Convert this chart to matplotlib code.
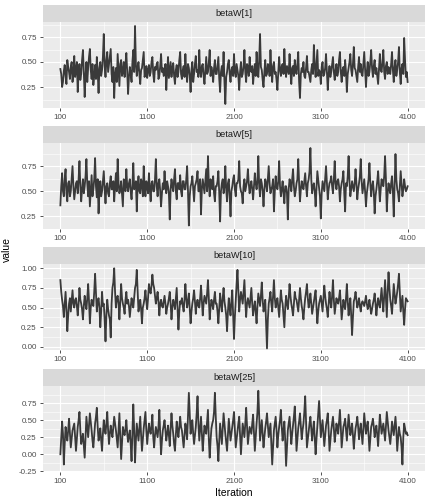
import numpy as np
import matplotlib
matplotlib.use("Agg")
import matplotlib.pyplot as plt
from matplotlib.ticker import FixedLocator

plt.rcParams['font.family'] = ['Liberation Sans', 'DejaVu Sans']

# draws kept every 10 iterations: 100..4100
iteration = np.arange(100, 4101, 10)

# values at 100, 120, ..., 4100
beta_w1_even = [
    0.43, 0.25, 0.41, 0.36, 0.52, 0.40, 0.45, 0.30, 0.56, 0.42,
    0.20, 0.48, 0.38, 0.62, 0.15, 0.50, 0.44, 0.63, 0.33, 0.27,
    0.47, 0.55, 0.19, 0.50, 0.42, 0.78, 0.35, 0.60, 0.48, 0.63,
    0.30, 0.14, 0.44, 0.58, 0.26, 0.52, 0.40, 0.35, 0.59, 0.18,
    0.45, 0.30, 0.62, 0.86, 0.36, 0.50, 0.28, 0.44, 0.60, 0.40,
    0.34, 0.47, 0.40, 0.55, 0.30, 0.42, 0.50, 0.36, 0.58, 0.44,
    0.38, 0.22, 0.55, 0.42, 0.35, 0.49, 0.28, 0.47, 0.40, 0.60,
    0.33, 0.46, 0.58, 0.30, 0.44, 0.20, 0.50, 0.38, 0.56, 0.42,
    0.62, 0.35, 0.48, 0.28, 0.55, 0.40, 0.62, 0.45, 0.30, 0.52,
    0.38, 0.55, 0.20, 0.46, 0.60, 0.08, 0.40, 0.52, 0.30, 0.45,
    0.58, 0.35, 0.42, 0.22, 0.50, 0.38, 0.62, 0.30, 0.45, 0.55,
    0.40, 0.28, 0.48, 0.60, 0.35, 0.78, 0.42, 0.25, 0.52, 0.38,
    0.45, 0.62, 0.30, 0.50, 0.40, 0.22, 0.55, 0.36, 0.48, 0.63,
    0.35, 0.42, 0.58, 0.28, 0.46, 0.52, 0.38, 0.60, 0.14, 0.44,
    0.50, 0.34, 0.56, 0.40, 0.30, 0.48, 0.67, 0.35, 0.62, 0.42,
    0.28, 0.50, 0.38, 0.58, 0.22, 0.46, 0.40, 0.55, 0.32, 0.48,
    0.40, 0.60, 0.30, 0.45, 0.52, 0.20, 0.44, 0.58, 0.36, 0.65,
    0.42, 0.30, 0.55, 0.48, 0.36, 0.60, 0.25, 0.50, 0.40, 0.62,
    0.35, 0.52, 0.44, 0.28, 0.58, 0.40, 0.62, 0.33, 0.50, 0.45,
    0.38, 0.60, 0.30, 0.52, 0.42, 0.65, 0.28, 0.48, 0.74, 0.35,
    0.30,
]
# values at 110, 130, ..., 4090
beta_w1_odd = [
    0.38, 0.30, 0.47, 0.28, 0.45, 0.33, 0.50, 0.38, 0.35, 0.50,
    0.40, 0.32, 0.52, 0.40, 0.36, 0.30, 0.55, 0.42, 0.48, 0.36,
    0.33, 0.40, 0.44, 0.36, 0.55, 0.46, 0.52, 0.40, 0.55, 0.38,
    0.45, 0.38, 0.30, 0.42, 0.48, 0.36, 0.50, 0.48, 0.40, 0.35,
    0.38, 0.50, 0.40, 0.48, 0.45, 0.38, 0.42, 0.52, 0.35, 0.46,
    0.42, 0.36, 0.50, 0.38, 0.45, 0.48, 0.33, 0.46, 0.40, 0.36,
    0.48, 0.40, 0.34, 0.50, 0.44, 0.36, 0.42, 0.35, 0.52, 0.38,
    0.42, 0.35, 0.40, 0.48, 0.36, 0.42, 0.30, 0.48, 0.40, 0.35,
    0.40, 0.46, 0.36, 0.42, 0.38, 0.50, 0.36, 0.40, 0.44, 0.38,
    0.46, 0.33, 0.40, 0.36, 0.30, 0.35, 0.48, 0.38, 0.42, 0.36,
    0.40, 0.48, 0.36, 0.40, 0.35, 0.46, 0.40, 0.48, 0.36, 0.42,
    0.46, 0.40, 0.36, 0.44, 0.52, 0.45, 0.32, 0.40, 0.36, 0.48,
    0.36, 0.42, 0.46, 0.38, 0.32, 0.40, 0.42, 0.46, 0.38, 0.42,
    0.46, 0.38, 0.40, 0.44, 0.36, 0.42, 0.48, 0.30, 0.38, 0.40,
    0.36, 0.44, 0.40, 0.35, 0.42, 0.38, 0.46, 0.48, 0.36, 0.40,
    0.45, 0.36, 0.44, 0.40, 0.38, 0.35, 0.48, 0.40, 0.42, 0.36,
    0.52, 0.40, 0.42, 0.36, 0.40, 0.38, 0.50, 0.42, 0.48, 0.44,
    0.36, 0.45, 0.40, 0.38, 0.48, 0.42, 0.40, 0.36, 0.50, 0.44,
    0.46, 0.38, 0.36, 0.44, 0.42, 0.50, 0.40, 0.46, 0.38, 0.40,
    0.48, 0.42, 0.45, 0.36, 0.50, 0.40, 0.44, 0.38, 0.52, 0.40,
]

beta_w5_even = [
    0.36, 0.68, 0.45, 0.72, 0.40, 0.60, 0.50, 0.75, 0.42, 0.58,
    0.48, 0.80, 0.40, 0.62, 0.55, 0.82, 0.45, 0.35, 0.66, 0.52,
    0.83, 0.44, 0.28, 0.60, 0.50, 0.70, 0.38, 0.58, 0.45, 0.65,
    0.52, 0.40, 0.68, 0.82, 0.48, 0.60, 0.35, 0.55, 0.72, 0.50,
    0.62, 0.42, 0.78, 0.55, 0.30, 0.65, 0.48, 0.58, 0.75, 0.45,
    0.55, 0.68, 0.40, 0.60, 0.50, 0.82, 0.45, 0.62, 0.35, 0.58,
    0.70, 0.48, 0.55, 0.22, 0.62, 0.50, 0.72, 0.42, 0.58, 0.66,
    0.45, 0.60, 0.52, 0.75, 0.16, 0.55, 0.65, 0.40, 0.58, 0.70,
    0.50, 0.27, 0.62, 0.48, 0.72, 0.85, 0.45, 0.58, 0.65, 0.40,
    0.55, 0.70, 0.20, 0.58, 0.48, 0.75, 0.40, 0.62, 0.25, 0.55,
    0.66, 0.45, 0.58, 0.80, 0.50, 0.38, 0.62, 0.55, 0.72, 0.48,
    0.60, 0.42, 0.68, 0.52, 0.85, 0.45, 0.58, 0.35, 0.62, 0.50,
    0.75, 0.48, 0.55, 0.30, 0.65, 0.52, 0.80, 0.45, 0.60, 0.38,
    0.55, 0.22, 0.62, 0.50, 0.72, 0.45, 0.58, 0.82, 0.40, 0.60,
    0.52, 0.68, 0.45, 0.62, 0.93, 0.48, 0.58, 0.35, 0.70, 0.55,
    0.23, 0.60, 0.50, 0.75, 0.42, 0.58, 0.65, 0.48, 0.80, 0.52,
    0.62, 0.40, 0.58, 0.70, 0.30, 0.55, 0.85, 0.45, 0.60, 0.50,
    0.72, 0.42, 0.58, 0.82, 0.48, 0.62, 0.35, 0.55, 0.78, 0.45,
    0.60, 0.28, 0.52, 0.70, 0.40, 0.62, 0.55, 0.85, 0.30, 0.58,
    0.48, 0.65, 0.25, 0.87, 0.52, 0.40, 0.70, 0.45, 0.62, 0.50,
    0.55,
]
beta_w5_odd = [
    0.55, 0.50, 0.62, 0.48, 0.58, 0.45, 0.62, 0.55, 0.50, 0.60,
    0.62, 0.55, 0.52, 0.48, 0.65, 0.58, 0.60, 0.50, 0.45, 0.62,
    0.55, 0.62, 0.50, 0.45, 0.60, 0.52, 0.55, 0.48, 0.58, 0.52,
    0.60, 0.55, 0.50, 0.58, 0.52, 0.48, 0.62, 0.50, 0.55, 0.58,
    0.50, 0.56, 0.52, 0.60, 0.55, 0.50, 0.62, 0.45, 0.55, 0.60,
    0.48, 0.52, 0.58, 0.50, 0.62, 0.55, 0.58, 0.50, 0.48, 0.52,
    0.55, 0.60, 0.48, 0.52, 0.55, 0.62, 0.50, 0.58, 0.52, 0.50,
    0.60, 0.52, 0.62, 0.50, 0.45, 0.58, 0.52, 0.55, 0.62, 0.50,
    0.62, 0.52, 0.55, 0.60, 0.50, 0.58, 0.62, 0.52, 0.48, 0.55,
    0.60, 0.48, 0.50, 0.62, 0.55, 0.52, 0.58, 0.45, 0.50, 0.62,
    0.52, 0.58, 0.62, 0.55, 0.48, 0.55, 0.50, 0.60, 0.58, 0.55,
    0.52, 0.55, 0.58, 0.60, 0.55, 0.62, 0.50, 0.52, 0.58, 0.62,
    0.58, 0.52, 0.62, 0.50, 0.55, 0.60, 0.55, 0.52, 0.48, 0.55,
    0.48, 0.52, 0.58, 0.62, 0.55, 0.50, 0.62, 0.58, 0.52, 0.55,
    0.60, 0.55, 0.58, 0.70, 0.62, 0.55, 0.50, 0.52, 0.62, 0.45,
    0.48, 0.55, 0.62, 0.58, 0.52, 0.60, 0.55, 0.62, 0.58, 0.60,
    0.55, 0.52, 0.62, 0.48, 0.58, 0.65, 0.60, 0.52, 0.55, 0.58,
    0.58, 0.52, 0.65, 0.60, 0.55, 0.50, 0.48, 0.62, 0.58, 0.55,
    0.50, 0.45, 0.60, 0.55, 0.52, 0.58, 0.65, 0.62, 0.48, 0.52,
    0.58, 0.50, 0.55, 0.62, 0.48, 0.55, 0.58, 0.52, 0.55, 0.52,
]

beta_w10_even = [
    0.85, 0.60, 0.38, 0.70, 0.20, 0.55, 0.45, 0.72, 0.50, 0.62,
    0.40, 0.75, 0.55, 0.35, 0.65, 0.48, 0.80, 0.30, 0.60, 0.52,
    0.93, 0.45, 0.62, 0.25, 0.70, 0.55, 0.07, 0.60, 0.40, 0.12,
    0.75, 1.00, 0.50, 0.65, 0.35, 0.80, 0.55, 0.42, 0.70, 0.60,
    0.38, 0.62, 0.50, 0.75, 0.98, 0.45, 0.60, 0.30, 0.55, 0.72,
    0.48, 0.80, 0.68, 0.92, 0.75, 0.55, 0.70, 0.40, 0.60, 0.50,
    0.65, 0.42, 0.55, 0.70, 0.35, 0.60, 0.48, 0.75, 0.22, 0.58,
    0.62, 0.45, 0.80, 0.50, 0.68, 0.30, 0.55, 0.72, 0.42, 0.60,
    0.50, 0.78, 0.40, 0.65, 0.55, 0.85, 0.35, 0.60, 0.48, 0.70,
    0.55, 0.30, 0.68, 0.45, 0.75, 0.50, 0.20, 0.62, 0.40, 0.72,
    0.10, 0.60, 0.98, 0.45, 0.70, 0.55, 0.85, 0.38, 0.62, 0.50,
    0.75, 0.40, 0.58, 0.30, 0.68, 0.52, 0.82, 0.45, 0.60, -0.02,
    0.55, 0.70, 0.45, 0.85, 0.50, 0.62, 0.38, 0.72, 0.55, 0.25,
    0.65, 0.48, 0.80, 0.55, 0.40, 0.70, 0.60, 0.45, 0.75, 0.52,
    0.35, 0.62, 0.80, 0.50, 0.68, 0.42, 0.58, 0.72, 0.30, 0.55,
    0.65, 0.45, 0.78, 0.55, 0.38, 0.70, 0.50, 0.85, 0.42, 0.62,
    0.55, 0.72, 0.35, 0.60, 0.48, 0.80, 0.40, 0.62, 0.15, 0.58,
    0.70, 0.50, 0.62, 0.45, 0.58, 0.52, 0.65, 0.48, 0.60, 0.42,
    0.55, 0.68, 0.40, 0.62, 0.50, 0.75, 0.45, 0.85, 0.38, 0.95,
    0.60, 0.42, 0.80, 0.55, 0.70, 0.93, 0.45, 0.65, 0.28, 0.62,
    0.58,
]
beta_w10_odd = [
    0.70, 0.52, 0.55, 0.48, 0.40, 0.62, 0.58, 0.55, 0.60, 0.52,
    0.55, 0.60, 0.48, 0.52, 0.55, 0.62, 0.58, 0.50, 0.55, 0.70,
    0.68, 0.58, 0.50, 0.45, 0.52, 0.35, 0.40, 0.48, 0.35, 0.55,
    0.82, 0.70, 0.62, 0.55, 0.58, 0.62, 0.50, 0.60, 0.55, 0.52,
    0.50, 0.55, 0.62, 0.80, 0.72, 0.55, 0.48, 0.50, 0.62, 0.58,
    0.62, 0.72, 0.78, 0.80, 0.65, 0.62, 0.58, 0.55, 0.52, 0.58,
    0.55, 0.50, 0.62, 0.55, 0.50, 0.55, 0.62, 0.50, 0.45, 0.55,
    0.52, 0.60, 0.62, 0.58, 0.50, 0.45, 0.62, 0.58, 0.55, 0.52,
    0.62, 0.58, 0.55, 0.60, 0.68, 0.62, 0.50, 0.55, 0.60, 0.55,
    0.45, 0.50, 0.55, 0.62, 0.58, 0.40, 0.45, 0.50, 0.58, 0.40,
    0.38, 0.80, 0.70, 0.60, 0.62, 0.70, 0.58, 0.55, 0.56, 0.62,
    0.55, 0.50, 0.45, 0.52, 0.60, 0.65, 0.60, 0.52, 0.30, 0.35,
    0.62, 0.55, 0.65, 0.62, 0.58, 0.50, 0.55, 0.60, 0.40, 0.50,
    0.55, 0.62, 0.65, 0.48, 0.55, 0.62, 0.52, 0.60, 0.62, 0.45,
    0.50, 0.70, 0.62, 0.58, 0.55, 0.50, 0.65, 0.50, 0.45, 0.60,
    0.55, 0.62, 0.65, 0.48, 0.55, 0.58, 0.65, 0.60, 0.52, 0.58,
    0.62, 0.55, 0.48, 0.52, 0.62, 0.58, 0.52, 0.40, 0.38, 0.62,
    0.60, 0.55, 0.52, 0.55, 0.55, 0.58, 0.55, 0.52, 0.50, 0.48,
    0.60, 0.55, 0.52, 0.55, 0.62, 0.58, 0.65, 0.60, 0.70, 0.75,
    0.52, 0.62, 0.68, 0.62, 0.80, 0.70, 0.55, 0.45, 0.48, 0.60,
]

beta_w25_even = [
    0.00, 0.48, -0.15, 0.40, 0.20, 0.52, 0.10, 0.35, 0.45, 0.05,
    0.40, 0.62, 0.15, 0.30, -0.05, 0.55, 0.25, 0.60, 0.35, 0.10,
    0.45, 0.68, 0.20, 0.38, 0.05, 0.50, 0.30, 0.62, 0.15, 0.42,
    0.25, 0.55, 0.35, 0.10, 0.60, -0.07, 0.40, 0.28, 0.50, 0.18,
    0.35, -0.10, 0.73, -0.12, 0.45, 0.20, 0.55, 0.05, 0.38, 0.62,
    0.15, 0.45, 0.30, 0.58, 0.10, 0.40, 0.25, 0.65, 0.00, 0.35,
    0.50, 0.20, 0.42, 0.12, 0.60, 0.30, 0.05, 0.48, 0.25, 0.55,
    0.35, 0.10, 0.45, 0.22, 0.90, 0.30, 0.50, 0.15, 0.40, 0.85,
    0.20, 0.55, 0.05, 0.42, 0.30, 0.65, -0.05, 0.38, 0.50, 0.90,
    0.25, -0.10, 0.45, 0.15, 0.60, 0.30, 0.05, 0.52, 0.20, 0.40,
    0.62, 0.10, 0.35, 0.55, 0.00, 0.45, 0.25, 0.68, 0.15, 0.40,
    0.30, 0.58, 0.05, 0.45, 0.93, 0.20, 0.50, 0.10, 0.38, 0.60,
    0.25, 0.45, -0.15, 0.35, 0.55, 0.10, 0.40, 0.65, 0.20, 0.48,
    -0.17, 0.35, 0.55, 0.15, 0.42, 0.70, 0.05, 0.38, 0.60, 0.22,
    0.45, 0.85, 0.10, 0.35, 0.55, 0.20, 0.48, 0.00, 0.40, 0.78,
    0.25, 0.50, 0.12, 0.42, 0.60, 0.05, 0.35, 0.55, 0.18, 0.45,
    0.30, 0.65, 0.10, 0.40, 0.52, 0.20, 0.58, 0.28, 0.45, 0.08,
    0.38, 0.55, 0.22, 0.45, 0.15, 0.60, 0.30, 0.48, 0.05, 0.40,
    0.52, 0.25, 0.42, 0.12, 0.58, 0.30, 0.45, 0.20, 0.62, 0.35,
    0.15, 0.48, 0.28, 0.55, 0.05, 0.40, 0.25, -0.15, 0.45, 0.30,
    0.28,
]
beta_w25_odd = [
    0.25, 0.30, 0.15, 0.28, 0.35, 0.30, 0.22, 0.40, 0.25, 0.22,
    0.50, 0.35, 0.22, 0.12, 0.25, 0.40, 0.42, 0.48, 0.20, 0.28,
    0.55, 0.40, 0.28, 0.20, 0.30, 0.38, 0.45, 0.35, 0.30, 0.32,
    0.40, 0.45, 0.22, 0.35, 0.25, 0.18, 0.32, 0.38, 0.30, 0.28,
    0.15, 0.30, 0.35, 0.20, 0.32, 0.38, 0.28, 0.22, 0.50, 0.35,
    0.30, 0.35, 0.42, 0.25, 0.28, 0.32, 0.40, 0.30, 0.20, 0.42,
    0.35, 0.30, 0.28, 0.38, 0.42, 0.15, 0.28, 0.35, 0.40, 0.40,
    0.22, 0.28, 0.35, 0.55, 0.60, 0.42, 0.30, 0.28, 0.60, 0.45,
    0.38, 0.30, 0.25, 0.35, 0.48, 0.22, 0.20, 0.45, 0.62, 0.55,
    0.12, 0.20, 0.30, 0.38, 0.45, 0.18, 0.30, 0.35, 0.30, 0.50,
    0.35, 0.22, 0.45, 0.28, 0.22, 0.35, 0.45, 0.40, 0.28, 0.35,
    0.45, 0.30, 0.25, 0.62, 0.55, 0.35, 0.30, 0.25, 0.48, 0.42,
    0.35, 0.15, 0.10, 0.45, 0.35, 0.28, 0.50, 0.40, 0.35, 0.20,
    0.10, 0.45, 0.35, 0.30, 0.55, 0.40, 0.22, 0.48, 0.42, 0.35,
    0.62, 0.48, 0.22, 0.45, 0.38, 0.35, 0.25, 0.22, 0.58, 0.50,
    0.38, 0.30, 0.28, 0.50, 0.35, 0.20, 0.45, 0.38, 0.30, 0.38,
    0.48, 0.40, 0.25, 0.45, 0.35, 0.40, 0.42, 0.35, 0.28, 0.25,
    0.45, 0.40, 0.35, 0.30, 0.38, 0.45, 0.40, 0.28, 0.22, 0.45,
    0.40, 0.35, 0.28, 0.35, 0.45, 0.38, 0.32, 0.40, 0.48, 0.25,
    0.30, 0.38, 0.42, 0.35, 0.22, 0.30, 0.10, 0.25, 0.38, 0.32,
]


def merge(even, odd):
    out = np.empty(len(even) + len(odd))
    out[0::2] = even
    out[1::2] = odd
    return out


panel_names = ["betaW[1]", "betaW[5]", "betaW[10]", "betaW[25]"]
series = [
    merge(beta_w1_even, beta_w1_odd),
    merge(beta_w5_even, beta_w5_odd),
    merge(beta_w10_even, beta_w10_odd),
    merge(beta_w25_even, beta_w25_odd),
]
y_ticks = [
    [0.25, 0.50, 0.75],
    [0.25, 0.50, 0.75],
    [0.00, 0.25, 0.50, 0.75, 1.00],
    [-0.25, 0.00, 0.25, 0.50, 0.75],
]
y_limits = [(0.04, 0.90), (0.125, 0.98), (-0.04, 1.055), (-0.26, 1.00)]
x_ticks = [100, 1100, 2100, 3100, 4100]

W, H = 432, 504
fig = plt.figure(figsize=(W / 100, H / 100), dpi=100)

# pixel boxes: (strip top, plot top, plot bottom)
boxes = [(5, 22, 108), (126, 143, 229), (247, 264, 350), (369, 386, 472)]
left, right = 43, 425

for i, (name, vals) in enumerate(zip(panel_names, series)):
    s_top, p_top, p_bot = boxes[i]
    ax = fig.add_axes([left / W, 1 - p_bot / H, (right - left) / W, (p_bot - p_top) / H])
    ax.set_facecolor("#EBEBEB")
    for sp in ax.spines.values():
        sp.set_visible(False)

    ax.plot(iteration, vals, color="#3A3A3A", lw=1.3, zorder=3)
    ax.set_xlim(-100, 4300)
    ax.set_ylim(*y_limits[i])

    ax.set_xticks(x_ticks)
    ax.set_xticklabels([str(t) for t in x_ticks])
    ax.xaxis.set_minor_locator(FixedLocator([600, 1600, 2600, 3600]))
    yt = y_ticks[i]
    ax.set_yticks(yt)
    ax.set_yticklabels([f"{t:.2f}" for t in yt])
    step = yt[1] - yt[0]
    ax.yaxis.set_minor_locator(FixedLocator([t - step / 2 for t in yt] + [yt[-1] + step / 2]))

    ax.grid(which="major", color="white", lw=0.8, zorder=0)
    ax.grid(which="minor", color="white", lw=0.4, zorder=0)
    ax.set_axisbelow(True)
    ax.tick_params(which="major", length=2, width=0.6, color="#333333",
                   labelsize=5.8, labelcolor="#4D4D4D", pad=2.5)
    ax.tick_params(which="minor", length=0)

    # facet strip
    sax = fig.add_axes([left / W, 1 - p_top / H, (right - left) / W, (p_top - s_top) / H])
    sax.set_facecolor("#D9D9D9")
    sax.set_xticks([])
    sax.set_yticks([])
    for sp in sax.spines.values():
        sp.set_visible(False)
    sax.text(0.5, 0.5, name, ha="center", va="center", fontsize=6.6,
             color="#1A1A1A", transform=sax.transAxes)

fig.text(7 / W, 1 - 250 / H, "value", rotation=90, ha="center", va="center",
         fontsize=7.5, color="black")
fig.text((left + right) / 2 / W, 1 - 493 / H, "Iteration", ha="center", va="center",
         fontsize=7.5, color="black")

fig.savefig("out.png", dpi=100)
